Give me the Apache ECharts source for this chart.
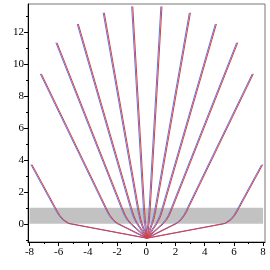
<!DOCTYPE html>
<html>
<head>
<meta charset="utf-8">
<style>html,body{margin:0;padding:0;background:#fff;}#c{width:270px;height:270px;}</style>
<script src="https://cdn.jsdelivr.net/npm/echarts@6/dist/echarts.min.js"></script>
</head>
<body>
<div id="c"></div>
<script>
// Tick values
const xMajorTicks = [-8, -6, -4, -2, 0, 2, 4, 6, 8];
const xMinorTicks = [-7, -5, -3, -1, 1, 3, 5, 7];
const yMajorTicks = [0, 2, 4, 6, 8, 10, 12];
const yMinorTicks = [-1, 1, 3, 5, 7, 9, 11, 13];

// Grey band: x from, x to, y from, y to
const bandX = [-8, 8];
const bandY = [0, 1];

// Rays, right side
const rayR1 = [[0,-0.9],[0.11,0],[0.12,0.1],[0.14,0.25],[0.16,0.5],[0.18,0.75],[0.2,1],[1.0,13.6]];
const rayR2 = [[0,-0.9],[0.35,0],[0.39,0.1],[0.44,0.25],[0.5,0.5],[0.56,0.75],[0.61,1],[2.95,13.2]];
const rayR3 = [[0,-0.9],[0.65,0],[0.72,0.1],[0.8,0.25],[0.92,0.5],[1.01,0.75],[1.09,1],[4.73,12.5]];
const rayR4 = [[0,-0.9],[1.09,0],[1.2,0.1],[1.32,0.25],[1.49,0.5],[1.61,0.75],[1.72,1],[6.19,11.33]];
const rayR5 = [[0,-0.9],[1.97,0],[2.14,0.1],[2.32,0.25],[2.53,0.5],[2.69,0.75],[2.82,1],[7.26,9.38]];
const rayR6 = [[0,-0.9],[5.23,0],[5.37,0.03],[5.5,0.1],[5.73,0.25],[5.97,0.5],[6.14,0.75],[6.29,1],[7.9,3.7]];
// left side
const rayL1 = [[0,-0.9],[-0.11,0],[-0.12,0.1],[-0.14,0.25],[-0.16,0.5],[-0.18,0.75],[-0.2,1],[-1.0,13.6]];
const rayL2 = [[0,-0.9],[-0.35,0],[-0.39,0.1],[-0.44,0.25],[-0.5,0.5],[-0.56,0.75],[-0.61,1],[-2.95,13.2]];
const rayL3 = [[0,-0.9],[-0.65,0],[-0.72,0.1],[-0.8,0.25],[-0.92,0.5],[-1.01,0.75],[-1.09,1],[-4.73,12.5]];
const rayL4 = [[0,-0.9],[-1.09,0],[-1.2,0.1],[-1.32,0.25],[-1.49,0.5],[-1.61,0.75],[-1.72,1],[-6.19,11.33]];
const rayL5 = [[0,-0.9],[-1.97,0],[-2.14,0.1],[-2.32,0.25],[-2.53,0.5],[-2.69,0.75],[-2.82,1],[-7.26,9.38]];
const rayL6 = [[0,-0.9],[-5.23,0],[-5.37,0.03],[-5.5,0.1],[-5.73,0.25],[-5.97,0.5],[-6.14,0.75],[-6.29,1],[-7.9,3.7]];

const rays = [rayL6, rayL5, rayL4, rayL3, rayL2, rayL1, rayR1, rayR2, rayR3, rayR4, rayR5, rayR6];
// red copy of each ray sits slightly to the right of the blue one
const redShiftX = 0.075;

const BLUE = '#5676e6';
const RED = '#e03c3c';
const FONT = 'Liberation Serif';

const series = [];
series.push({
  type: 'line', data: [], silent: true, z: 1,
  markArea: {
    silent: true,
    itemStyle: { color: '#c2c2c2', opacity: 1 },
    data: [[{ coord: [bandX[0], bandY[0]] }, { coord: [bandX[1], bandY[1]] }]]
  }
});
rays.forEach(r => series.push({
  type: 'line', data: r, showSymbol: false, symbol: 'none', silent: true, z: 2,
  lineStyle: { color: BLUE, width: 1 }
}));
rays.forEach(r => series.push({
  type: 'line', data: r.map(p => [p[0] + redShiftX, p[1]]), showSymbol: false, symbol: 'none', silent: true, z: 3,
  lineStyle: { color: RED, width: 1 }
}));

const xr = { min: -8.1, max: 8.13 };
const yr = { min: -1.14, max: 13.75 };

const chart = echarts.init(document.getElementById('c'), null, { renderer: 'canvas' });
chart.setOption({
  animation: false,
  backgroundColor: '#fff',
  grid: { left: 28, right: 5, top: 4, bottom: 28, show: true, borderColor: '#777', borderWidth: 1, outerBoundsMode: 'none' },
  xAxis: [
    { type: 'value', min: xr.min, max: xr.max, position: 'bottom',
      axisLine: { show: true, onZero: false, lineStyle: { color: '#000', width: 1 } },
      axisTick: { show: true, customValues: xMajorTicks, length: 4, lineStyle: { color: '#000' } },
      axisLabel: { show: true, customValues: xMajorTicks, fontFamily: FONT, fontSize: 11, color: '#000', margin: 5 },
      splitLine: { show: false } },
    { type: 'value', min: xr.min, max: xr.max, position: 'bottom',
      axisLine: { show: false, onZero: false },
      axisTick: { show: true, customValues: xMinorTicks, length: 2, lineStyle: { color: '#000' } },
      axisLabel: { show: false },
      splitLine: { show: false } }
  ],
  yAxis: [
    { type: 'value', min: yr.min, max: yr.max, position: 'left',
      axisLine: { show: true, onZero: false, lineStyle: { color: '#000', width: 1 } },
      axisTick: { show: true, customValues: yMajorTicks, length: 4, lineStyle: { color: '#000' } },
      axisLabel: { show: true, customValues: yMajorTicks, fontFamily: FONT, fontSize: 11, color: '#000', margin: 4 },
      splitLine: { show: false } },
    { type: 'value', min: yr.min, max: yr.max, position: 'left',
      axisLine: { show: false, onZero: false },
      axisTick: { show: true, customValues: yMinorTicks, length: 2, lineStyle: { color: '#000' } },
      axisLabel: { show: false },
      splitLine: { show: false } }
  ],
  series: series
});
</script>
</body>
</html>
